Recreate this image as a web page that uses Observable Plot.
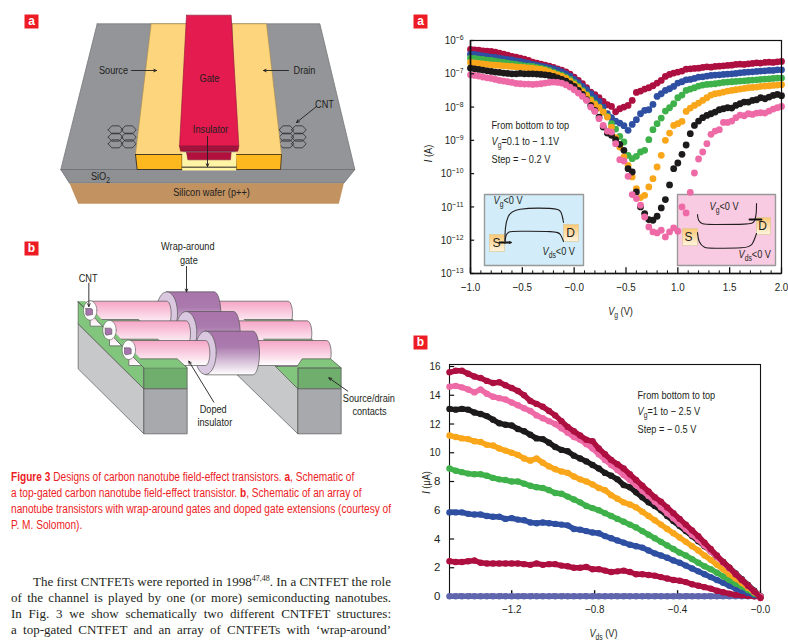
<!DOCTYPE html>
<html><head><meta charset="utf-8">
<script src="https://cdn.jsdelivr.net/npm/d3@7"></script>
<script src="https://cdn.jsdelivr.net/npm/@observablehq/plot@0.6"></script>
<style>
html,body{margin:0;padding:0;background:#fff;overflow:hidden;width:788px;height:642px}
#page{position:relative;width:788px;height:642px;overflow:hidden}
#page>svg,#page>div{position:absolute}
.cap{left:11px;color:#ed1c24;font:12px/16px "Liberation Sans",sans-serif;white-space:nowrap;transform:scaleX(.844);transform-origin:0 0}
.body{left:11px;width:380px;color:#231f20;font:13px/16px "Liberation Serif",serif;white-space:nowrap;text-align:justify;text-align-last:justify}
.body sup{font-size:8px;line-height:0}
</style></head><body><div id="page"></div>
<script>
// ---------- Panel a (top right): I(A) against Vg, log10 of the current ----------
const vg = [-1,-.96,-.92,-.88,-.84,-.8,-.76,-.72,-.68,-.64,-.6,-.56,-.52,-.48,-.44,-.4,-.36,-.32,-.28,-.24,-.2,-.16,-.12,-.08,-.04,
0,.04,.08,.12,.16,.2,.24,.28,.32,.36,.4,.44,.48,.52,.56,.6,.64,.68,.72,.76,.8,.84,.88,.92,.96,
1,1.04,1.08,1.12,1.16,1.2,1.24,1.28,1.32,1.36,1.4,1.44,1.48,1.52,1.56,1.6,1.64,1.68,1.72,1.76,1.8,1.84,1.88,1.92,1.96,2];
const aCrimson = [-6.27,-6.28,-6.29,-6.31,-6.32,-6.33,-6.35,-6.38,-6.41,-6.44,
-6.48,-6.5,-6.53,-6.56,-6.6,-6.65,-6.68,-6.71,-6.74,-6.77,
-6.81,-6.85,-6.89,-6.94,-7.01,-7.1,-7.2,-7.3,-7.42,-7.55,
-7.63,-7.72,-7.83,-7.93,-7.98,-8.14,-8.05,-8.0,-7.95,-7.8,
-7.56,-7.52,-7.46,-7.42,-7.36,-7.28,-7.2,-7.08,-7.02,-6.98,
-6.95,-6.92,-6.86,-6.85,-6.84,-6.83,-6.81,-6.79,-6.8,-6.78,
-6.77,-6.76,-6.75,-6.74,-6.72,-6.71,-6.72,-6.7,-6.69,-6.67,
-6.68,-6.66,-6.65,-6.66,-6.64,-6.63];
const aBlue = [-6.41,-6.42,-6.44,-6.46,-6.48,-6.5,-6.51,-6.53,-6.55,-6.57,
-6.58,-6.61,-6.63,-6.66,-6.69,-6.72,-6.74,-6.77,-6.79,-6.82,
-6.85,-6.89,-6.94,-7.0,-7.07,-7.17,-7.27,-7.38,-7.48,-7.6,
-7.72,-7.83,-8.0,-8.2,-8.32,-8.42,-8.48,-8.56,-8.7,-8.52,
-8.38,-8.2,-8.1,-8.08,-7.92,-7.68,-7.6,-7.5,-7.45,-7.38,
-7.28,-7.24,-7.18,-7.17,-7.14,-7.1,-7.09,-7.07,-7.05,-7.04,
-7.03,-7.02,-7.01,-7.0,-6.99,-6.97,-6.96,-6.95,-6.94,-6.93,
-6.92,-6.91,-6.9,-6.9,-6.88,-6.88];
const aGreen = [-6.53,-6.54,-6.56,-6.57,-6.59,-6.6,-6.62,-6.64,-6.66,-6.68,
-6.7,-6.72,-6.74,-6.76,-6.77,-6.78,-6.81,-6.83,-6.86,-6.9,
-6.95,-7.0,-7.04,-7.1,-7.17,-7.27,-7.37,-7.5,-7.62,-7.76,
-7.88,-8.0,-8.14,-8.28,-8.5,-8.66,-8.88,-9.05,-9.45,-9.55,
-9.48,-9.35,-9.3,-8.98,-8.68,-8.5,-8.33,-8.12,-8.02,-7.9,
-7.72,-7.64,-7.5,-7.46,-7.42,-7.37,-7.34,-7.32,-7.31,-7.3,
-7.28,-7.26,-7.25,-7.24,-7.23,-7.22,-7.21,-7.2,-7.19,-7.18,
-7.17,-7.16,-7.15,-7.14,-7.13,-7.13];
const aOrange = [-6.66,-6.67,-6.69,-6.7,-6.72,-6.73,-6.74,-6.75,-6.76,-6.77,
-6.78,-6.79,-6.8,-6.81,-6.82,-6.83,-6.85,-6.87,-6.9,-6.94,
-6.99,-7.03,-7.08,-7.14,-7.22,-7.32,-7.42,-7.54,-7.65,-7.8,
-7.92,-8.02,-8.15,-8.3,-8.6,-8.92,-9.2,-9.5,-9.75,-10.1,
-10.45,-10.72,-10.65,-10.4,-10.15,-9.8,-9.45,-9.0,-8.78,-8.55,
-8.5,-8.43,-8.13,-8.03,-7.95,-7.88,-7.8,-7.72,-7.64,-7.6,
-7.58,-7.55,-7.52,-7.5,-7.48,-7.46,-7.44,-7.42,-7.41,-7.4,
-7.38,-7.37,-7.36,-7.35,-7.34,-7.33];
const aBlack = [-6.83,-6.85,-6.87,-6.89,-6.91,-6.93,-6.95,-6.96,-6.98,-6.99,
-7.0,-7.0,-6.99,-7.0,-7.0,-7.0,-7.01,-7.02,-7.03,-7.05,
-7.08,-7.12,-7.17,-7.22,-7.3,-7.38,-7.5,-7.62,-7.78,-7.95,
-8.1,-8.3,-8.6,-8.78,-8.85,-8.98,-9.12,-9.3,-9.85,-9.95,
-10.55,-11.0,-11.2,-11.38,-11.4,-11.28,-11.03,-10.78,-10.34,-9.85,
-9.68,-9.42,-9.14,-8.8,-8.55,-8.42,-8.32,-8.25,-8.2,-8.15,
-8.08,-8.05,-8.02,-8.03,-7.95,-7.9,-7.85,-7.85,-7.8,-7.78,
-7.72,-7.75,-7.7,-7.65,-7.62,-7.66];
const aPink = [-7.03,-7.05,-7.07,-7.1,-7.12,-7.14,-7.17,-7.2,-7.22,-7.24,
-7.26,-7.29,-7.3,-7.31,-7.31,-7.32,-7.31,-7.3,-7.28,-7.26,
-7.25,-7.26,-7.28,-7.33,-7.4,-7.48,-7.58,-7.68,-7.8,-8.0,
-8.13,-8.35,-8.55,-8.72,-8.75,-9.1,-9.58,-9.62,-10.08,-10.63,
-10.75,-10.95,-11.3,-11.6,-11.75,-11.78,-11.7,-11.9,-11.75,-11.63,
-11.73,-11.0,-11.18,-10.56,-9.98,-9.56,-9.35,-9.1,-8.82,-8.72,
-8.68,-8.46,-8.46,-8.42,-8.32,-8.24,-8.26,-8.2,-8.22,-8.18,
-8.17,-8.18,-8.12,-8.06,-8.02,-7.98];
const aTicksX = [-1,-.5,0,.5,1,1.5,2];
const aTickLabels = ["−1.0","−0.5","−0.0","−0.5","1.0","1.5","2.0"];
const aMinorX = [-.9,-.8,-.7,-.6,-.4,-.3,-.2,-.1,.1,.2,.3,.4,.6,.7,.8,.9,1.1,1.2,1.3,1.4,1.6,1.7,1.8,1.9];
const aDecades = [-13,-12,-11,-10,-9,-8,-7,-6];

// ---------- Panel b (bottom right): I(uA) against Vds ----------
const vds = [-1.5,-1.47,-1.44,-1.41,-1.38,-1.35,-1.32,-1.29,-1.26,-1.23,-1.2,-1.17,-1.14,-1.11,-1.08,-1.05,-1.02,
-.99,-.96,-.93,-.9,-.87,-.84,-.81,-.78,-.75,-.72,-.69,-.66,-.63,-.6,-.57,-.54,-.51,-.48,-.45,-.42,-.39,-.36,-.33,-.3,-.27,-.24,-.21,-.18,-.15,-.12,-.09,-.06,-.03,0];
const bPurple = [.02,.02,.02,.02,.02,.02,.02,.02,.02,.02,.02,.02,.02,.02,.02,.02,.02,.02,.02,.02,.02,.02,.02,.02,.02,.02,.02,.02,.02,.02,.02,.02,.02,.02,.02,.02,.02,.02,.02,.02,.02,.02,.02,.02,.02,.02,.02,.02,.02,.02,0];
const bCrimsonLow = [2.45,2.4,2.4,2.45,2.5,2.35,2.3,2.3,2.3,2.3,2.3,2.3,2.25,2.2,2.3,2.2,2.25,2.25,2.15,2.1,2.0,2.0,2.05,1.9,1.9,1.8,1.7,1.75,1.8,1.7,1.55,1.55,1.5,1.45,1.35,1.25,1.15,1.1,1.0,.85,.75,.65,.55,.4,.3,.2,.12,.08,.04,.02,0];
const bBlue = [5.85,5.85,5.85,5.75,5.7,5.7,5.6,5.55,5.55,5.4,5.45,5.35,5.3,5.15,5.1,5.15,5.1,5.05,5.0,4.95,4.7,4.65,4.55,4.45,4.4,4.2,4.05,3.9,3.75,3.6,3.5,3.4,3.2,3.0,2.85,2.7,2.5,2.35,2.15,1.95,1.75,1.55,1.35,1.15,.95,.75,.55,.4,.25,.1,0];
const bGreen = [8.9,8.75,8.65,8.55,8.5,8.5,8.4,8.25,8.15,8.1,8.0,8.0,7.85,7.7,7.6,7.55,7.4,7.2,7.15,6.95,6.75,6.55,6.3,6.15,6.0,5.8,5.6,5.4,5.2,5.0,4.8,4.55,4.3,4.05,3.8,3.55,3.3,3.05,2.85,2.6,2.35,2.1,1.9,1.65,1.4,1.15,.9,.7,.45,.2,0];
const bOrange = [11.2,11.1,11.0,10.95,10.8,10.75,10.55,10.5,10.3,10.15,10.0,9.85,9.6,9.45,9.6,9.3,9.05,8.85,8.7,8.6,8.35,8.15,8.0,7.8,7.55,7.4,7.05,6.8,6.55,6.4,6.2,5.9,5.6,5.3,5.0,4.7,4.4,4.1,3.8,3.5,3.2,2.85,2.55,2.2,1.9,1.55,1.25,.95,.6,.3,0];
const bBlack = [13.05,13.0,13.05,13.0,12.8,12.7,12.55,12.3,12.05,11.95,11.9,11.65,11.5,11.25,11.0,10.95,10.7,10.4,10.2,10.1,9.8,9.6,9.4,9.15,8.9,8.6,8.4,8.15,7.75,7.6,7.25,6.9,6.55,6.3,6.0,5.6,5.25,4.9,4.55,4.2,3.85,3.5,3.15,2.75,2.4,2.0,1.6,1.2,.8,.4,0];
const bPink = [14.6,14.65,14.55,14.4,14.2,14.4,14.1,13.9,13.8,13.7,13.5,13.3,13.1,12.9,12.6,12.4,12.2,12.0,11.7,11.4,11.1,10.9,10.6,10.3,9.9,9.5,9.15,8.8,8.45,8.1,7.75,7.35,7.0,6.6,6.2,5.8,5.45,5.05,4.7,4.3,3.95,3.55,3.15,2.75,2.35,1.95,1.55,1.15,.75,.35,0];
const bCrimsonTop = [15.6,15.7,15.7,15.5,15.3,15.2,15.0,14.85,14.9,14.7,14.5,14.3,14.0,13.6,13.4,13.2,12.9,12.6,12.2,11.8,11.5,11.2,10.9,10.8,10.3,9.9,9.5,9.2,8.9,8.5,8.1,7.7,7.3,6.9,6.6,6.2,5.8,5.4,5.0,4.6,4.2,3.75,3.3,2.85,2.4,2.0,1.55,1.15,.75,.35,-.1];
const bTicksX = [-1.2,-.8,-.4,0];
const bTickLabels = ["−1.2","−0.8","−0.4","−0.0"];
const bMinorX = [-1.45,-1.4,-1.35,-1.3,-1.25,-1.15,-1.1,-1.05,-1,-.95,-.9,-.85,-.75,-.7,-.65,-.6,-.55,-.5,-.45,-.35,-.3,-.25,-.2,-.15,-.1,-.05];
const bTicksY = [0,2,4,6,8,10,12,14,16];

// ---------- Text ----------
const captionLines = [
 '<b>Figure 3</b> Designs of carbon nanotube field-effect transistors. <b>a</b>, Schematic of',
 'a top-gated carbon nanotube field-effect transistor. <b>b</b>, Schematic of an array of',
 'nanotube transistors with wrap-around gates and doped gate extensions (courtesy of',
 'P. M. Solomon).'];
const bodyLines = [
 'The first CNTFETs were reported in 1998<sup>47,48</sup>. In a CNTFET the role',
 'of the channel is played by one (or more) semiconducting nanotubes.',
 'In Fig. 3 we show schematically two different CNTFET structures:',
 'a top-gated CNTFET and an array of CNTFETs with ‘wrap-around’'];

// ---------- Colours ----------
const RED="#ed1c24", CRIMSON="#ad0f40", BLUE="#2f4fa2", GREEN="#3fb14a", ORANGE="#faa61a", BLACK="#1c1a1b", PINK="#ee6aa7", PURPLE="#5f66ad", INK="#231f20";
const SANS='"Liberation Sans",sans-serif';

// ---------- Schematic helpers (pixel canvas) ----------
const px=d=>d[0], py=d=>d[1];
const poly=(pts,fill,stroke="none",sw=1)=>Plot.line([...pts,pts[0]],{x:px,y:py,fill,stroke,strokeWidth:sw,strokeLinejoin:"round"});
const path=(pts,stroke=INK,sw=1,curve="linear")=>Plot.line(pts,{x:px,y:py,stroke,strokeWidth:sw,curve});
const arrow=(x1,y1,x2,y2,sw=.9)=>Plot.arrow([0],{x1:()=>x1,y1:()=>y1,x2:()=>x2,y2:()=>y2,stroke:INK,strokeWidth:sw,headLength:5,headAngle:50});
const label=(x,y,text,o={})=>Plot.text([[x,y]],{x:px,y:py,text:()=>text,fill:INK,fontSize:11.5,textAnchor:"middle",...o});
const ell=(cx,cy,rx,ry,a0=0,a1=360)=>d3.range(a0,a1+1,10).map(a=>[cx+rx*Math.cos(a*Math.PI/180),cy+ry*Math.sin(a*Math.PI/180)]);

const A=(...p)=>p.map(([x,y])=>[x/3,y/3]);
const B=(...p)=>p.map(([x,y])=>[x/3,230+y/3]);
const bx=x=>x/3, by=y=>230+y/3;

function schematicA(){
  const m=[
    poly(A([290,70],[958,70],[1063,507],[181,507]),"#939598","#77787b",.8),
    poly(A([181,507],[1063,507],[1030,548],[207,548]),"#8e9093","#6d6e71",.8),
    poly(A([207,548],[1030,548],[1015,610],[233,610]),"#c29261","none"),
  ];
  const rows=[388,410,430];
  for(const cols of [[345,385],[858,895]]){
    for(const r of rows) for(const c of cols){
      m.push(poly(A([c-22,r],[c-11,r-12],[c+11,r-12],[c+22,r],[c+11,r+12],[c-11,r+12]),"none","#1f1f1f",.7));
    }
  }
  m.push(
    poly(A([452,70],[560,70],[548,462],[405,462]),"#fdd57d","#a8843a",.5),
    poly(A([405,462],[545,462],[545,507],[410,507]),"#fdb71f",INK,.8),
    poly(A([695,70],[798,70],[843,462],[705,462]),"#fdd57d","#a8843a",.5),
    poly(A([705,462],[843,462],[840,507],[707,507]),"#fdb71f","#3a2a10",.8),
    poly(A([545,455],[707,455],[707,510],[545,510]),"#fff3a6","none"),
    path(A([545,500],[707,500]),INK,1),
    poly(A([558,455],[692,455],[690,478],[562,478]),"#b1103f","#7a0c2c",.5),
    poly(A([558,44],[692,44],[715,437],[537,437]),"#e31b4e","#8f1036",.6),
    poly(A([537,437],[715,437],[712,452],[540,452]),"#a3123d","#7a0c2c",.5)
  );
  m.push(
    label(113,70,"Source"), arrow(131,70,156,70),
    label(304,70,"Drain"), arrow(288,70,263,70),
    label(209,78,"Gate"),
    label(210,129,"Insulator"), arrow(207,136,207,166),
    label(324,104,"CNT"), arrow(316,106,296,122),
    label(100,176,"SiO<sub>2</sub>"),
    label(211,192,"Silicon wafer (p++)")
  );
  return m;
}

function cyl(x1,x2,top,bot,rxR,fill,stroke="#555"){
  const cy=(top+bot)/2, ry=(bot-top)/2;
  return poly(B([x1,top],...ell(x2,cy,rxR,ry,-90,90),[x1,bot]),fill,stroke,.7);
}
function schematicB(){
  const G1="#82c57c",G2="#6fae6c",GR1="#c7c8ca",GR2="#a7a9ac",E="#555";
  const m=[
    poly(B([233,280],[430,475],[430,610],[233,415]),GR1,E,.7),
    poly(B([233,215],[430,412],[430,475],[233,280]),G1,E,.7),
    poly(B([233,215],[262,215],[420,385],[530,385],[560,412],[430,412]),G1,E,.7),
    poly(B([430,412],[560,412],[560,475],[430,475]),G2,E,.7),
    poly(B([430,475],[560,475],[560,610],[430,610]),GR2,E,.7),
    poly(B([712,435],[712,400],[825,400],[892,475],[892,610]),GR1,E,.7),
    poly(B([892,412],[1022,412],[1022,475],[892,475]),G2,E,.7),
    poly(B([892,475],[1022,475],[1022,610],[892,610]),GR2,E,.7)
  ];
  for(const k of [2,1,0]){
    const dx=-58*k, dy=-59*k;
    const o=(...p)=>B(...p.map(([x,y])=>[x+dx,y+dy]));
    m.push(cyl(740+dx,978+dx,330+dy,405+dy,14,"url(#tube)"));
    m.push(cyl(615+dx,757+dx,302+dy,433+dy,20,"url(#gate)"));
    m.push(poly(B(...ell(615+dx,367+dy,32,65)),"#d9c8e0",E,.7));
    m.push(cyl(385+dx,615+dx,330+dy,405+dy,13,"url(#tube)"));
    // contact tops in front of the tube bottoms
    m.push(poly(o([348,330],[369,330],[420,385],[530,385],[560,412],[430,412]),G1,"none"));
    m.push(path(o([420,385],[530,385],[560,412]),E,.7));
    m.push(path(o([348,330],[430,412]),E,.7));
    if(k===0) m.push(poly(o([825,408],[890,408],[905,385],[990,385],[1022,412],[892,412],[892,475]),G1,E,.7));
    else { m.push(poly(o([847,385],[993,385],[1022,412],[876,412]),G1,"none")); m.push(path(o([847,385],[993,385]),E,.7)); }
    // tube end: ring and nanotube core
    m.push(poly(B(...ell(385+dx,358+dy,20,29)),"#ffffff",E,.6));
    m.push(poly(B([372+dx,352+dy],[388+dx,352+dy],[392+dx,355+dy],[392+dx,370+dy],[376+dx,373+dy],[372+dx,370+dy]),"#a874ad",E,.6));
  }
  m.push(
    label(bx(562),by(48),"Wrap-around"), label(bx(565),by(88),"gate"),
    arrow(bx(558),by(108),bx(558),by(184)),
    label(bx(263),by(142),"CNT"),
    arrow(bx(265),by(158),bx(265),by(228)),
    label(bx(638),by(535),"Doped"), label(bx(643),by(574),"insulator"),
    arrow(bx(640),by(515),bx(565),by(392)),
    label(bx(1105),by(504),"Source/drain"), label(bx(1107),by(541),"contacts"),
    arrow(bx(1042),by(482),bx(985),by(442))
  );
  return m;
}
function tag(x,y,t){
  return [
    poly([[x,y],[x+14,y],[x+14,y+14],[x,y+14]],RED),
    Plot.text([[x+7,y+7]],{x:px,y:py,text:()=>t,fill:"white",fontSize:12,fontWeight:"bold",fontFamily:SANS})
  ];
}
function insets(){
  const box=(x1,y1,x2,y2,fill,s="#999",w=1.4)=>poly([[x1,y1],[x2,y1],[x2,y2],[x1,y2]],fill,s,w);
  return [
    box(484,194,583,265,"#d2edf9"),
    box(489,234,504,251,"url(#pad)","#d8c89c",.7),
    box(563,224,578,241,"url(#pad)","#d8c89c",.7),
    path([[504.5,240],[504.5,228],[507,215],[514,207.5],[555,207.5],[561,210],[563,222]],INK,1.1,"basis"),
    path([[504.5,243],[505,235],[508,231],[514,230.7],[556,230.7],[560,233],[563,241]],INK,1.1,"basis"),
    path([[499,242],[508,242]],"#111",1.8),
    arrow(504,242,511,242,1.2),
    label(496,243,"S",{fontSize:12}),
    label(570,233,"D",{fontSize:12}),
    label(493,200,"<i>V</i><sub>g</sub>&lt;0 V",{textAnchor:"start"}),
    label(542,251,"<i>V</i><sub>ds</sub>&lt;0 V",{textAnchor:"start"}),

    box(677,194,775,265,"#f9cbe2"),
    box(682,228,697,245,"url(#pad)","#d8c89c",.7),
    box(756,217,770,234,"url(#pad)","#d8c89c",.7),
    path([[697,214],[697.5,220],[702,224],[708,224],[750,224],[754,222],[756,213],[756,203]],INK,1.1,"basis"),
    path([[697,232],[698,242],[704,247.7],[710,247.7],[746,247.7],[752,245],[756,233]],INK,1.1,"basis"),
    path([[761,219],[749,219]],"#111",1.8),
    label(688,237,"S",{fontSize:12}),
    label(762,226,"D",{fontSize:12}),
    label(709,206,"<i>V</i><sub>g</sub>&lt;0 V",{textAnchor:"start"}),
    label(738,254,"<i>V</i><sub>ds</sub>&lt;0 V",{textAnchor:"start"})
  ];
}
const notes=(x,ys,lines)=>lines.map((t,i)=>label(x,ys[i],t,{textAnchor:"start",fontSize:11.5}));
const rotated=(x,y,t)=>label(x,y,t,{rotate:-90,fontSize:11.5});

const defs=()=>{
  const d=d3.create("svg:defs");
  const g=(id,stops)=>{const l=d.append("linearGradient").attr("id",id).attr("x1",0).attr("x2",0).attr("y1",0).attr("y2",1);
    stops.forEach(([o,c])=>l.append("stop").attr("offset",o).attr("stop-color",c));};
  g("tube",[[0,"#f5a6c6"],[.45,"#f9cbdf"],[1,"#ffffff"]]);
  g("gate",[[0,"#a974ab"],[.35,"#aa79ad"],[1,"#ffffff"]]);
  g("pad",[[0,"#fcc873"],[1,"#fff4de"]]);
  return d.node();
};

const under=Plot.plot({
  width:788,height:642,margin:0,
  x:{domain:[0,788],axis:null},y:{domain:[642,0],axis:null},
  style:{fontFamily:SANS,background:"white"},
  marks:[
    defs,
    ...schematicA(),...schematicB(),
    ...tag(24,14,"a"),...tag(24,241,"b"),...tag(413,14,"a"),...tag(413,335,"b"),
    ...insets(),
    ...notes(491,[124.5,141,158.5],["From bottom to top","<i>V</i><sub>g</sub>=0.1 to − 1.1V","Step = − 0.2 V"]),
    ...notes(637,[394.5,411,428.5],["From bottom to top","<i>V</i><sub>g</sub>=1 to − 2.5 V","Step = − 0.5 V"]),
    rotated(428,153,"<i>I</i> (A)"),
    rotated(426,482,"<i>I</i> (μA)"),
    label(620,311,"<i>V</i><sub>g</sub> (V)",{fontSize:11.5}),
    label(603,633,"<i>V</i><sub>ds</sub> (V)",{fontSize:11.5})
  ]
});
under.style.left="0";under.style.top="0";

// ---------- Charts ----------
const aSeries=[[aCrimson,CRIMSON],[aBlue,BLUE],[aGreen,GREEN],[aOrange,ORANGE],[aBlack,BLACK],[aPink,PINK]];
const aBottom=1e-13;
const plotA=Plot.plot({
  width:378,height:325,marginLeft:60,marginRight:7,marginTop:40,marginBottom:52,
  x:{domain:[-1,2],axis:null},
  y:{type:"log",domain:[1e-13,1e-6],axis:null},
  style:{fontFamily:SANS,fontSize:"11px",background:"transparent",overflow:"visible",color:INK},
  marks:[
    ...aSeries.map(([s,c])=>Plot.dot(vg.map((v,i)=>({v,I:10**s[i]})),{x:"v",y:"I",r:3.4,fill:c,stroke:"none"})),
    Plot.frame({stroke:"#111",strokeWidth:1.2}),
    Plot.ruleY([1e-13],{stroke:"#111",strokeWidth:1.6}),
    Plot.ruleX([-1],{stroke:"#111",strokeWidth:1.6}),
    Plot.ruleX(aTicksX,{x:d=>d,y1:()=>aBottom,y2:()=>10**-12.83,stroke:"#111",strokeWidth:1.3}),
    Plot.ruleX(aMinorX,{x:d=>d,y1:()=>aBottom,y2:()=>10**-12.92,stroke:"#111",strokeWidth:1}),
    Plot.ruleY(aDecades.map(d=>10**d),{y:d=>d,x1:()=>-1,x2:()=>-.96,stroke:"#111",strokeWidth:1.2}),
    Plot.axisX({ticks:aTicksX,tickSize:0,tickPadding:9,label:null,tickFormat:d=>aTickLabels[aTicksX.indexOf(d)],fontSize:11.5}),
    Plot.axisY({ticks:aDecades.map(d=>10**d),tickSize:0,tickPadding:7,label:null,tickFormat:d=>`10<sup>−${Math.round(-Math.log10(d))}</sup>`,fontSize:11.5})
  ]
});
plotA.style.left="410px";plotA.style.top="0";

const bSeries=[[bPurple,PURPLE],[bCrimsonLow,CRIMSON],[bBlue,BLUE],[bGreen,GREEN],[bOrange,ORANGE],[bBlack,BLACK],[bPink,PINK],[bCrimsonTop,CRIMSON]];
const plotB=Plot.plot({
  width:378,height:317,marginLeft:39,marginRight:28,marginTop:39,marginBottom:45,
  x:{domain:[-1.5,0],axis:null},
  y:{domain:[-.07,16.14],axis:null},
  style:{fontFamily:SANS,fontSize:"11px",background:"transparent",overflow:"visible",color:INK},
  marks:[
    Plot.frame({stroke:"#111",strokeWidth:1.1}),
    Plot.ruleX(bTicksX,{x:d=>d,y1:()=>-.07,y2:()=>.4,stroke:"#111",strokeWidth:1.4}),
    Plot.ruleX(bMinorX,{x:d=>d,y1:()=>-.07,y2:()=>.2,stroke:"#111",strokeWidth:1}),
    Plot.ruleY(bTicksY,{y:d=>d,x1:()=>-1.5,x2:()=>-1.475,stroke:"#111",strokeWidth:1.2}),
    ...bSeries.flatMap(([s,c])=>{
      const rows=vds.map((v,i)=>({v,I:s[i]}));
      return [Plot.line(rows,{x:"v",y:"I",stroke:c,strokeWidth:5.4}),Plot.dot(rows,{x:"v",y:"I",r:3.2,fill:c,stroke:"none"})];
    }),
    Plot.axisX({ticks:bTicksX,tickSize:0,tickPadding:7,label:null,tickFormat:d=>bTickLabels[bTicksX.indexOf(d)],fontSize:11.5}),
    Plot.axisY({ticks:bTicksY,tickSize:0,tickPadding:9,label:null,fontSize:11.5})
  ]
});
plotB.style.left="410px";plotB.style.top="325px";

const page=document.getElementById("page");
page.append(under,plotA,plotB);

captionLines.forEach((t,i)=>{const d=document.createElement("div");d.className="cap";d.style.top=(469+16*i)+"px";d.innerHTML=t;page.append(d);});
bodyLines.forEach((t,i)=>{const d=document.createElement("div");d.className="body";d.style.top=(574+16*i)+"px";
  if(i===0){d.style.left="33px";d.style.width="358px";}
  d.innerHTML=t;page.append(d);});

// small markup inside SVG text: <i>, <sub>, <sup>; then condense glyphs like the reference's narrow face
const NS="http://www.w3.org/2000/svg";
page.querySelectorAll("svg text").forEach(el=>{
  const leaves=el.querySelectorAll("tspan").length?[...el.querySelectorAll("tspan")]:[el];
  leaves.forEach(t=>{
    const raw=t.textContent; if(!raw.includes("<"))return;
    t.textContent="";
    let shift=0,state={};
    raw.split(/(<\/?(?:i|sub|sup)>)/).forEach(tok=>{
      const m=tok.match(/^<(\/?)(i|sub|sup)>$/);
      if(m){state[m[2]]=!m[1];return;}
      if(!tok)return;
      const s=document.createElementNS(NS,"tspan");
      s.textContent=tok.replace(/&lt;/g,"<");
      const want=state.sub?3:state.sup?-4:0;
      if(want!==shift){s.setAttribute("dy",want-shift);shift=want;}
      if(state.i)s.setAttribute("font-style","italic");
      if(state.sub||state.sup)s.setAttribute("font-size",state.sup?"8":"8.5");
      t.appendChild(s);
    });
  });
  if(el.textContent.length>1){
    const isTick=el.closest("svg")!==under;
    const tr=el.getAttribute("transform")||"";
    el.setAttribute("transform",tr+` scale(${isTick?.86:.8},1)`);
  }
});
</script></body></html>
